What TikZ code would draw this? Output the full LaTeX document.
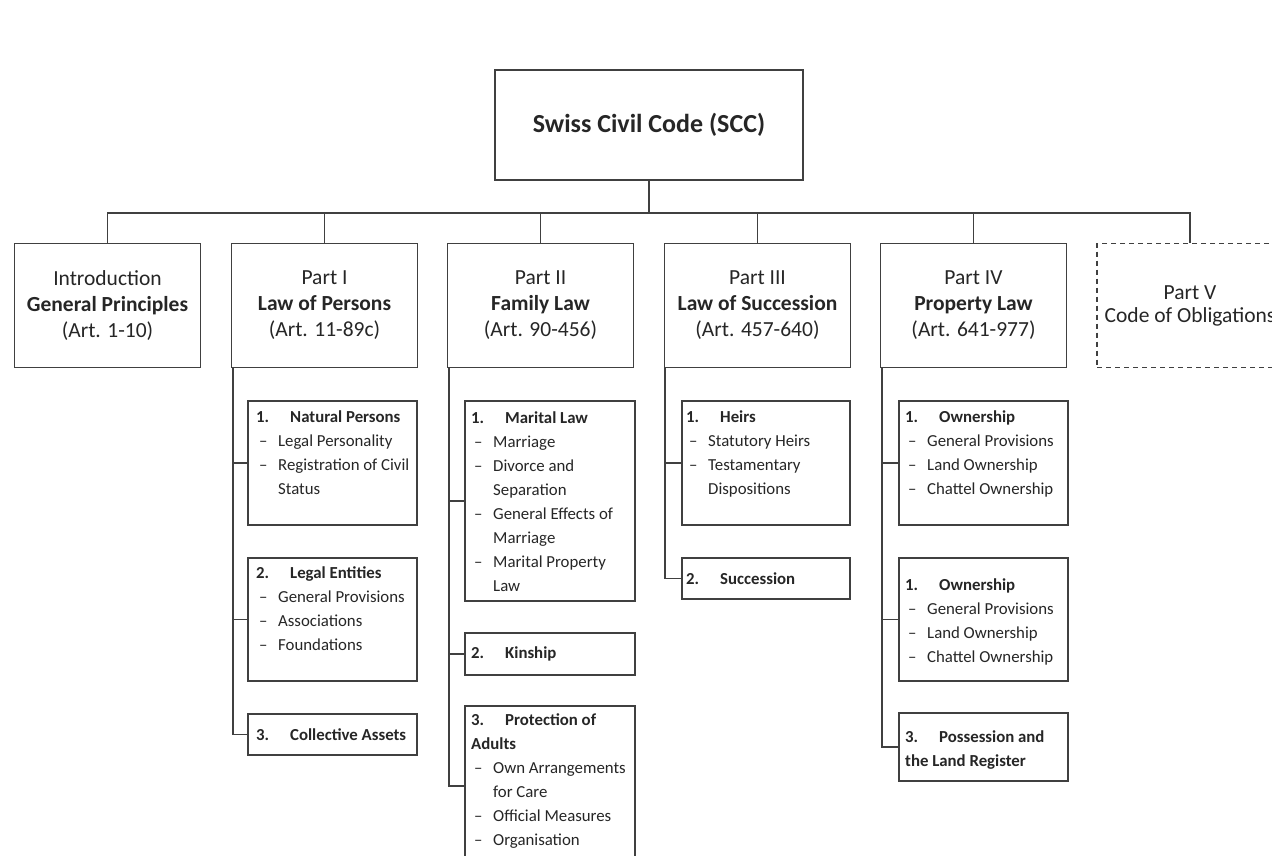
\documentclass[tikz,border=0pt]{standalone}
\usepackage{fontspec}
\setmainfont{Carlito}
\usetikzlibrary{calc}
\definecolor{ln}{RGB}{64,64,64}
\definecolor{tx}{RGB}{38,38,38}
\newcommand{\hd}[2]{\strut\textbf{\makebox[34pt][l]{#1}#2}}
\newcommand{\itm}[1]{\hspace*{3pt}\makebox[19pt][l]{–}#1}
\newcommand{\cnt}[1]{\hspace*{22pt}#1}
\begin{document}
\begin{tikzpicture}[x=1pt,y=-1pt,
  conn/.style={draw=ln, line width=1.6pt},
  topbox/.style={draw=ln, line width=1.6pt, minimum width=186pt, minimum height=124pt, inner sep=0pt, align=center, text=tx, font=\fontsize{21.5}{26}\selectfont},
  subbox/.style={draw=ln, line width=1.6pt, inner sep=0pt, anchor=north west},
  subtext/.style={inner sep=0pt, anchor=north west, align=left, text=tx, font=\fontsize{16.8}{24}\selectfont},
]
\useasboundingbox (0,0) rectangle (1272,856);
\clip (0,0) rectangle (1272,856);
\fill[white] (0,0) rectangle (1272,856);

% root
\node[topbox, minimum width=308pt, minimum height=110pt, font=\fontsize{26}{30}\selectfont\bfseries] (scc) at (649,125) {Swiss Civil Code (SCC)};

% level 1
\node[topbox] (intro) at (107.5,305.5) {Introduction\\\textbf{General Principles}\\(Art. 1-10)};
\node[topbox] (p1) at (324.5,305.5) {Part I\\\textbf{Law of Persons}\\(Art. 11-89c)};
\node[topbox] (p2) at (540.5,305.5) {Part II\\\textbf{Family Law}\\(Art. 90-456)};
\node[topbox] (p3) at (757.5,305.5) {Part III\\\textbf{Law of Succession}\\(Art. 457-640)};
\node[topbox] (p4) at (973.5,305.5) {Part IV\\\textbf{Property Law}\\(Art. 641-977)};
\node[topbox, dash pattern=on 5pt off 4pt, font=\fontsize{21.5}{23}\selectfont] (p5) at (1190,305.5) {Part V\\Code of Obligations};

\coordinate (bus) at (649,213);
\draw[conn] (scc.south) -- (bus);
\foreach \n in {intro,p1,p2,p3,p4,p5} \draw[conn] (bus) -| (\n.north);

% Part I children
\node[subbox, minimum width=169pt, minimum height=124pt] (p1a) at (247,400) {};
\node[subbox, minimum width=169pt, minimum height=123pt] (p1b) at (247,557) {};
\node[subbox, minimum width=169pt, minimum height=41pt] (p1c) at (247,713) {};
\node[subtext] (t1a) at ($(p1a.north west)+(9,5)$) {\hd{1.}{Natural Persons}\\\itm{Legal Personality}\\\itm{Registration of Civil}\\\cnt{Status}};
\node[subtext] (t1b) at ($(p1b.north west)+(9,4)$) {\hd{2.}{Legal Entities}\\\itm{General Provisions}\\\itm{Associations}\\\itm{Foundations}};
\node[subtext, anchor=west] (t1c) at ($(p1c.west)+(9,1)$) {\hd{3.}{Collective Assets}};
\coordinate (v1) at (233,368);
\draw[conn] (v1) |- (p1c.west);
\draw[conn] (v1 |- p1a.west) -- (p1a.west);
\draw[conn] (v1 |- p1b.west) -- (p1b.west);

% Part II children
\node[subbox, minimum width=170pt, minimum height=200pt] (p2a) at (464,400) {};
\node[subbox, minimum width=170pt, minimum height=42pt] (p2b) at (464,632) {};
\node[subbox, minimum width=170pt, minimum height=160pt] (p2c) at (464,705) {};
\node[subtext] (t2a) at ($(p2a.north west)+(7,6)$) {\hd{1.}{Marital Law}\\\itm{Marriage}\\\itm{Divorce and}\\\cnt{Separation}\\\itm{General Effects of}\\\cnt{Marriage}\\\itm{Marital Property}\\\cnt{Law}};
\node[subtext, anchor=west] (t2b) at ($(p2b.west)+(7,0)$) {\hd{2.}{Kinship}};
\node[subtext] (t2c) at ($(p2c.north west)+(7,3)$) {\hd{3.}{Protection of}\\\textbf{Adults}\\\itm{Own Arrangements}\\\cnt{for Care}\\\itm{Official Measures}\\\itm{Organisation}};
\coordinate (v2) at (449,368);
\draw[conn] (v2) |- (p2c.west);
\draw[conn] (v2 |- p2a.west) -- (p2a.west);
\draw[conn] (v2 |- p2b.west) -- (p2b.west);

% Part III children
\node[subbox, minimum width=168pt, minimum height=124pt] (p3a) at (681,400) {};
\node[subbox, minimum width=168pt, minimum height=41pt] (p3b) at (681,557) {};
\node[subtext] (t3a) at ($(p3a.north west)+(5,5)$) {\hd{1.}{Heirs}\\\itm{Statutory Heirs}\\\itm{Testamentary}\\\cnt{Dispositions}};
\node[subtext, anchor=west] (t3b) at ($(p3b.west)+(5,1)$) {\hd{2.}{Succession}};
\coordinate (v3) at (665,368);
\draw[conn] (v3) |- (p3b.west);
\draw[conn] (v3 |- p3a.west) -- (p3a.west);

% Part IV children
\node[subbox, minimum width=169pt, minimum height=124pt] (p4a) at (898,400) {};
\node[subbox, minimum width=169pt, minimum height=123pt] (p4b) at (898,557) {};
\node[subbox, minimum width=169pt, minimum height=68pt] (p4c) at (898,712) {};
\node[subtext] (t4a) at ($(p4a.north west)+(7,5)$) {\hd{1.}{Ownership}\\\itm{General Provisions}\\\itm{Land Ownership}\\\itm{Chattel Ownership}};
\node[subtext] (t4b) at ($(p4b.north west)+(7,16)$) {\hd{1.}{Ownership}\\\itm{General Provisions}\\\itm{Land Ownership}\\\itm{Chattel Ownership}};
\node[subtext] (t4c) at ($(p4c.north west)+(7,13)$) {\hd{3.}{Possession and}\\\textbf{the Land Register}};
\coordinate (v4) at (882,368);
\draw[conn] (v4) |- (p4c.west);
\draw[conn] (v4 |- p4a.west) -- (p4a.west);
\draw[conn] (v4 |- p4b.west) -- (p4b.west);
\end{tikzpicture}
\end{document}
